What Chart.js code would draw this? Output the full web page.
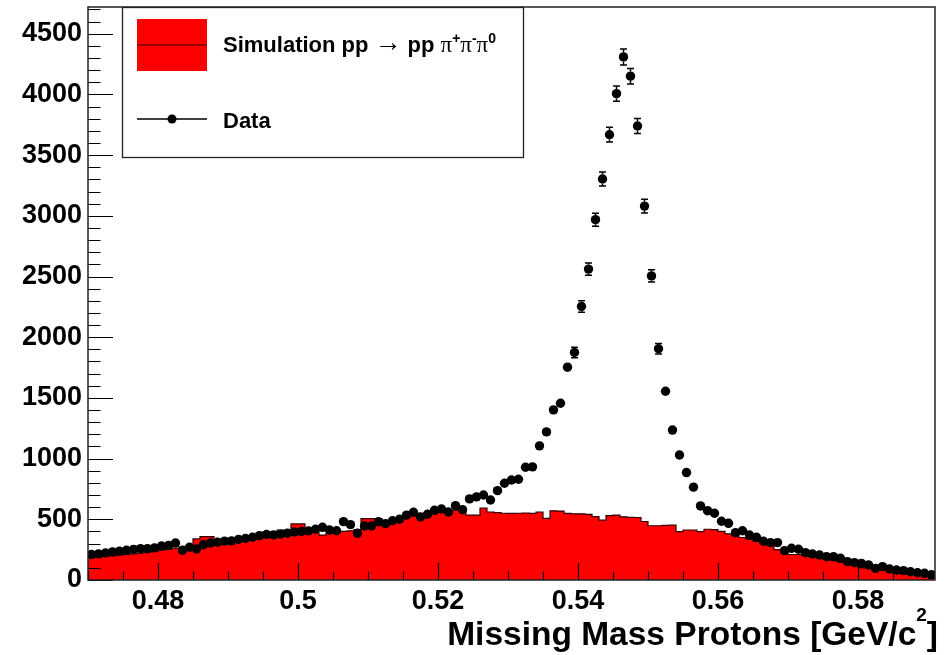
<!DOCTYPE html>
<html>
<head>
<meta charset="utf-8">
<script src="https://cdn.jsdelivr.net/npm/chart.js@4/dist/chart.umd.min.js"></script>
<style>
  html, body { margin: 0; padding: 0; background: #fff; }
  #wrap { width: 952px; height: 655px; position: relative; }
</style>
</head>
<body>
<div id="wrap"><canvas id="c" width="952" height="655"></canvas></div>
<script>
// Histogram binning (GeV/c^2)
const binStart = 0.470;
const binWidth = 0.001;
const xMin = 0.470;
const xMax = 0.591;
const yMax = 4720;

// Measured missing-mass spectrum (counts per bin)
const dataCounts = [
  210, 215, 222, 232, 238, 245, 252, 258, 258, 265,
  280, 285, 305, 245, 270, 255, 290, 305, 312, 320,
  322, 335, 342, 352, 365, 375, 372, 378, 385, 395,
  400, 405, 418, 434, 412, 406, 481, 456, 385, 445,
  445, 480, 464, 488, 500, 534, 558, 520, 542, 574,
  585, 560, 613, 580, 668, 685, 700, 659, 736, 797,
  824, 830, 929, 932, 1105, 1220, 1401, 1456, 1753, 1874,
  2253, 2561, 2968, 3303, 3668, 4006, 4309, 4150, 3740, 3080,
  2505, 1905, 1555, 1235, 1030, 885, 765, 610, 571, 550,
  484, 467, 390, 406, 371, 352, 319, 308, 308, 242,
  261, 253, 225, 214, 206, 192, 192, 179, 151, 143,
  137, 124, 96, 110, 91, 82, 77, 68, 60, 55,
  44
];

// Statistical uncertainty of each measured bin
const dataErrors = [
  14, 15, 15, 15, 15, 16, 16, 16, 16, 16,
  17, 17, 17, 16, 16, 16, 17, 17, 18, 18,
  18, 18, 18, 19, 19, 19, 19, 19, 20, 20,
  20, 20, 20, 21, 20, 20, 22, 21, 20, 21,
  21, 22, 22, 22, 22, 23, 24, 23, 23, 24,
  24, 24, 25, 24, 26, 26, 26, 26, 27, 28,
  29, 29, 30, 31, 33, 35, 37, 38, 42, 43,
  47, 51, 54, 57, 61, 63, 66, 64, 61, 56,
  50, 44, 39, 35, 32, 30, 28, 25, 24, 23,
  22, 22, 20, 20, 19, 19, 18, 18, 18, 16,
  16, 16, 15, 15, 14, 14, 14, 13, 12, 12,
  12, 11, 10, 10, 10, 9, 9, 8, 8, 7,
  7
];

// Simulated pp -> pp pi+ pi- pi0 background (counts per bin)
const simCounts = [
  185, 190, 195, 200, 205, 210, 215, 222, 230, 238,
  245, 252, 262, 270, 275, 338, 357, 357, 300, 305,
  312, 320, 330, 335, 345, 395, 395, 412, 412, 462,
  462, 400, 395, 370, 385, 395, 400, 405, 415, 505,
  505, 505, 490, 500, 510, 520, 530, 545, 555, 560,
  565, 570, 575, 570, 535, 535, 592, 560, 555, 550,
  548, 550, 552, 548, 560, 508, 570, 568, 548, 545,
  545, 540, 522, 494, 530, 535, 520, 516, 515, 482,
  447, 447, 450, 453, 398, 412, 412, 398, 418, 415,
  400, 380, 368, 350, 335, 318, 305, 285, 250, 240,
  210, 210, 200, 192, 185, 170, 162, 150, 138, 125,
  100, 100, 100, 98, 95, 55, 52, 50, 50, 48,
  27
];

// Axis tick values and their labels
const xTickValues = [0.48, 0.50, 0.52, 0.54, 0.56, 0.58];
const xTickLabels = ['0.48', '0.5', '0.52', '0.54', '0.56', '0.58'];
const yTickValues = [0, 500, 1000, 1500, 2000, 2500, 3000, 3500, 4000, 4500];
const yTickLabels = ['0', '500', '1000', '1500', '2000', '2500', '3000', '3500', '4000', '4500'];

const legendSimText = 'Simulation pp';
const legendDataText = 'Data';
const axisTitleText = 'Missing Mass Protons [GeV/c';

// Histogram outline: one point per lower bin edge plus the closing upper edge
const simPoints = simCounts.map((v, i) => ({ x: binStart + i * binWidth, y: v }));
simPoints.push({ x: binStart + simCounts.length * binWidth, y: simCounts[simCounts.length - 1] });

// Data points at bin centres
const dataPoints = dataCounts.map((v, i) => ({ x: binStart + (i + 0.5) * binWidth, y: v }));

const FONT = '"Liberation Sans", Arial, Helvetica, sans-serif';
const SERIF = '"Liberation Serif", "Times New Roman", serif';

// Vertical error bars with end caps, drawn outside the marker only
const errorBars = {
  id: 'errorBars',
  afterDatasetsDraw(chart) {
    const meta = chart.getDatasetMeta(1);
    const y = chart.scales.y;
    const ctx = chart.ctx;
    const r = chart.data.datasets[1].pointRadius;
    ctx.save();
    ctx.strokeStyle = '#000';
    ctx.lineWidth = 1.5;
    meta.data.forEach((pt, i) => {
      const v = dataCounts[i];
      const e = dataErrors[i];
      const top = y.getPixelForValue(v + e);
      const bot = y.getPixelForValue(v - e);
      if (pt.y - top <= r + 0.5) return;
      ctx.beginPath();
      ctx.moveTo(pt.x, top); ctx.lineTo(pt.x, pt.y - r);
      ctx.moveTo(pt.x, pt.y + r); ctx.lineTo(pt.x, bot);
      ctx.moveTo(pt.x - 3.5, top); ctx.lineTo(pt.x + 3.5, top);
      ctx.moveTo(pt.x - 3.5, bot); ctx.lineTo(pt.x + 3.5, bot);
      ctx.stroke();
    });
    ctx.restore();
  }
};

// Frame, inward tick marks, legend box and axis title
const decorations = {
  id: 'decorations',
  afterDraw(chart) {
    const { ctx, chartArea: a, scales: { x, y } } = chart;
    ctx.save();

    // inward ticks on the y axis: minor every 100, major every 500
    ctx.strokeStyle = '#000';
    ctx.lineWidth = 1.2;
    ctx.beginPath();
    for (let k = 0; k * 100 <= yMax; k++) {
      const py = Math.round(y.getPixelForValue(k * 100)) + 0.5;
      const len = (k % 5 === 0) ? 25 : 12.5;
      ctx.moveTo(a.left, py); ctx.lineTo(a.left + len, py);
    }
    // inward ticks on the x axis: minor every 0.005, major every 0.02
    for (let k = 0; binStart + k * 0.005 <= xMax + 1e-9; k++) {
      const v = binStart + k * 0.005;
      const px = Math.round(x.getPixelForValue(v)) + 0.5;
      const major = (k % 4 === 2);
      const len = major ? 17 : 8.5;
      ctx.moveTo(px, a.bottom); ctx.lineTo(px, a.bottom - len);
    }
    ctx.stroke();

    // plot frame
    ctx.lineWidth = 1.5;
    ctx.strokeStyle = '#222';
    ctx.strokeRect(a.left, a.top, a.right - a.left, a.bottom - a.top);

    // legend box
    const lx = 122, ly = 7, lw = 401, lh = 150;
    ctx.fillStyle = '#fff';
    ctx.fillRect(lx, ly, lw, lh);
    ctx.strokeStyle = '#222';
    ctx.lineWidth = 1.3;
    ctx.strokeRect(lx + 0.5, ly + 0.5, lw, lh);

    // simulation entry: filled box with its outline colour across the middle
    ctx.fillStyle = '#ff0000';
    ctx.fillRect(137, 19, 70, 52);
    ctx.strokeStyle = '#300';
    ctx.lineWidth = 1.2;
    ctx.beginPath(); ctx.moveTo(137, 45); ctx.lineTo(207, 45); ctx.stroke();

    ctx.fillStyle = '#000';
    ctx.textBaseline = 'alphabetic';
    ctx.textAlign = 'left';
    let tx = 223;
    const base = 52;
    ctx.font = 'bold 22px ' + FONT;
    ctx.fillText(legendSimText, tx, base);
    tx += ctx.measureText(legendSimText + ' ').width;
    ctx.font = '27px ' + FONT;
    ctx.fillText('\u2192', tx, base - 1);
    tx += ctx.measureText('\u2192').width + 6;
    ctx.font = 'bold 22px ' + FONT;
    ctx.fillText('pp', tx, base);
    tx += ctx.measureText('pp ').width;
    const pis = [['\u03C0', '+'], ['\u03C0', '-'], ['\u03C0', '0']];
    pis.forEach(([p, s]) => {
      ctx.font = '23px ' + SERIF;
      ctx.fillText(p, tx, base);
      tx += ctx.measureText(p).width;
      ctx.font = 'bold 14px ' + FONT;
      ctx.fillText(s, tx, base - 9);
      tx += ctx.measureText(s).width;
    });

    // data entry: line with a marker
    ctx.strokeStyle = '#000';
    ctx.lineWidth = 1.5;
    ctx.beginPath(); ctx.moveTo(137, 119); ctx.lineTo(207, 119); ctx.stroke();
    ctx.beginPath(); ctx.arc(172, 119, 4.5, 0, Math.PI * 2); ctx.fill();
    ctx.font = 'bold 22px ' + FONT;
    ctx.fillText(legendDataText, 223, 128);

    // x axis title with superscript, right-aligned to the frame
    ctx.font = 'bold 33.5px ' + FONT;
    const wMain = ctx.measureText(axisTitleText).width;
    const wClose = ctx.measureText(']').width;
    ctx.font = 'bold 19px ' + FONT;
    const wSup = ctx.measureText('2').width;
    const right = 938;
    let ax = right - wClose - wSup - wMain;
    ctx.font = 'bold 33.5px ' + FONT;
    ctx.fillText(axisTitleText, ax, 645);
    ax += wMain;
    ctx.font = 'bold 19px ' + FONT;
    ctx.fillText('2', ax, 621);
    ax += wSup;
    ctx.font = 'bold 33.5px ' + FONT;
    ctx.fillText(']', ax, 645);

    ctx.restore();
  }
};

new Chart(document.getElementById('c'), {
  data: {
    datasets: [
      {
        type: 'line',
        label: 'Simulation',
        order: 2,
        data: simPoints,
        stepped: 'before',
        fill: 'origin',
        backgroundColor: '#ff0000',
        borderColor: '#330000',
        borderWidth: 1.2,
        pointRadius: 0,
        tension: 0
      },
      {
        type: 'scatter',
        label: 'Data',
        order: 1,
        data: dataPoints,
        backgroundColor: '#000',
        borderColor: '#000',
        borderWidth: 0,
        pointRadius: 4.7,
        pointHoverRadius: 4.7
      }
    ]
  },
  options: {
    responsive: false,
    animation: false,
    devicePixelRatio: 1,
    layout: { padding: { top: 7, right: 17, left: 0, bottom: 0 } },
    plugins: { legend: { display: false }, tooltip: { enabled: false } },
    events: [],
    scales: {
      x: {
        type: 'linear',
        min: xMin,
        max: xMax,
        grid: { display: false, drawTicks: false },
        border: { display: false },
        afterBuildTicks: (s) => { s.ticks = xTickValues.map(v => ({ value: v })); },
        afterFit: (s) => { s.height = 75; s.paddingLeft = 0; s.paddingRight = 0; },
        ticks: {
          autoSkip: false,
          maxRotation: 0,
          padding: 5,
          color: '#000',
          font: { family: FONT, size: 27, weight: 'bold' },
          callback: (v) => { const i = xTickValues.findIndex(t => Math.abs(t - v) < 1e-9); return i >= 0 ? xTickLabels[i] : ''; }
        }
      },
      y: {
        type: 'linear',
        min: 0,
        max: yMax,
        grid: { display: false, drawTicks: false },
        border: { display: false },
        afterBuildTicks: (s) => { s.ticks = yTickValues.map(v => ({ value: v })); },
        afterFit: (s) => { s.width = 88; s.paddingTop = 0; s.paddingBottom = 0; },
        ticks: {
          autoSkip: false,
          padding: 6,
          color: '#000',
          font: { family: FONT, size: 27, weight: 'bold' },
          callback: (v) => { const i = yTickValues.indexOf(v); return i >= 0 ? yTickLabels[i] : ''; }
        }
      }
    }
  },
  plugins: [errorBars, decorations]
});
</script>
</body>
</html>
